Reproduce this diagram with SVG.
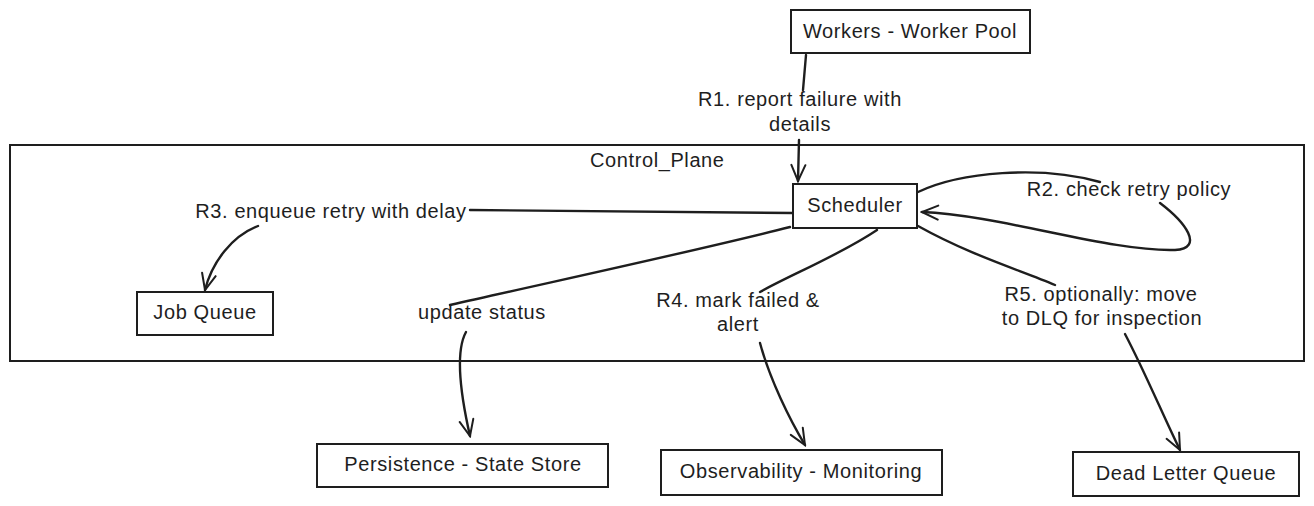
<svg xmlns="http://www.w3.org/2000/svg" width="1314" height="506" viewBox="0 0 1314 506">
<style>
.box{fill:#fff;stroke:#1e1e1e;stroke-width:2}
.t{font-family:"Liberation Sans",Arial,sans-serif;font-size:20px;letter-spacing:0.6px;fill:#1e1e1e;text-anchor:middle}
.e{fill:none;stroke:#1e1e1e;stroke-width:2.4;stroke-linecap:round}
</style>
<defs>
<marker id="ah" viewBox="0 0 20 20" refX="18" refY="10" markerWidth="20" markerHeight="20" markerUnits="userSpaceOnUse" orient="auto">
<path d="M2,3 L18,10 L2,17" fill="none" stroke="#1e1e1e" stroke-width="2" stroke-linecap="round"/>
</marker>
</defs>
<rect width="1314" height="506" fill="#fff"/>
<g id="cluster-control-plane">
<rect x="10" y="145" width="1294" height="216" fill="none" stroke="#1e1e1e" stroke-width="2"/>
<text x="590" y="167" class="t" style="text-anchor:start">Control_Plane</text>
</g>
<g id="connectors">
<path class="e" d="M806,55 L803,90"/>
<path class="e" d="M799,140 L798,181" marker-end="url(#ah)"/>
<path class="e" d="M918,192 C960,172 1040,165 1100,182"/>
<path class="e" d="M1160,203 C1185,222 1205,248 1175,250 C1110,252 1000,215 922,212" marker-end="url(#ah)"/>
<path class="e" d="M793,213 L470,210"/>
<path class="e" d="M258,226 C232,236 212,262 205,290" marker-end="url(#ah)"/>
<path class="e" d="M790,227 C700,250 560,280 450,305"/>
<path class="e" d="M466,332 C455,352 460,392 470,436" marker-end="url(#ah)"/>
<path class="e" d="M877,230 C840,255 790,275 760,292"/>
<path class="e" d="M760,343 C770,380 790,420 805,445" marker-end="url(#ah)"/>
<path class="e" d="M918,226 C970,255 1020,270 1055,285"/>
<path class="e" d="M1125,334 C1145,372 1165,420 1180,450" marker-end="url(#ah)"/>
</g>
<g id="edge-labels">
<text x="800" y="106" class="t">R1. report failure with</text>
<text x="800" y="131" class="t">details</text>
<text x="1129" y="196" class="t">R2. check retry policy</text>
<text x="331" y="218" class="t">R3. enqueue retry with delay</text>
<text x="482" y="319" class="t">update status</text>
<text x="738" y="307" class="t">R4. mark failed &amp;</text>
<text x="738" y="331" class="t">alert</text>
<text x="1101" y="301" class="t">R5. optionally: move</text>
<text x="1102" y="325" class="t">to DLQ for inspection</text>
</g>
<g id="node-workers">
<rect x="791" y="10" width="239" height="43" class="box"/>
<text x="910" y="38" class="t">Workers - Worker Pool</text>
</g>
<g id="node-scheduler">
<rect x="793" y="184" width="124" height="44" class="box"/>
<text x="855" y="212" class="t">Scheduler</text>
</g>
<g id="node-jobqueue">
<rect x="137" y="292" width="136" height="43" class="box"/>
<text x="205" y="319" class="t">Job Queue</text>
</g>
<g id="node-persistence">
<rect x="317" y="444" width="291" height="43" class="box"/>
<text x="463" y="471" class="t">Persistence - State Store</text>
</g>
<g id="node-observability">
<rect x="661" y="450" width="281" height="45" class="box"/>
<text x="801" y="478" class="t">Observability - Monitoring</text>
</g>
<g id="node-dlq">
<rect x="1073" y="452" width="226" height="44" class="box"/>
<text x="1186" y="480" class="t">Dead Letter Queue</text>
</g>
</svg>
